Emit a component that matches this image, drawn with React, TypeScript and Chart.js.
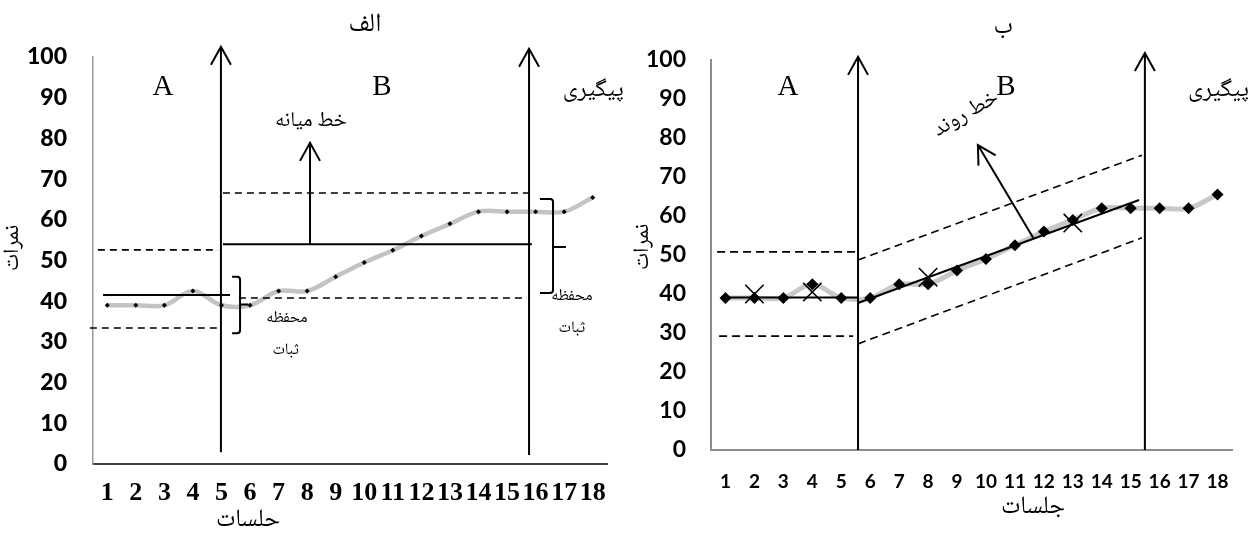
import React, { useEffect, useRef } from 'react';
import { Chart, registerables } from 'chart.js';

Chart.register(...registerables);

// ---------------- data ----------------
const sessions = ['1', '2', '3', '4', '5', '6', '7', '8', '9', '10', '11', '12', '13', '14', '15', '16', '17', '18'];
const scoresAlef = [39, 39, 39, 42.5, 39, 39, 42.5, 42.5, 46, 49.5, 52.5, 56, 59, 62, 62, 62, 62, 65.5];
const scoresBe = [39, 39, 39, 42.5, 39, 39, 42.5, 42.5, 46, 49, 52.5, 56, 59, 62, 62, 62, 62, 65.5];
const scoreMin = 0;
const scoreMax = 100;
const scoreStep = 10;
const crossSessions = [2, 4, 8, 13];
const crossScores = [40, 40.5, 44.3, 58.2];

// chart "الف" guides: [session1, score1, session2, score2]
const alefSolid = [[0.85, 41.5, 5.3, 41.5], [5.05, 54, 15.87, 54]];
const alefDashed = [[0.67, 52.6, 4.88, 52.6], [0.39, 33.4, 4.95, 33.4], [5.05, 66.6, 15.8, 66.6], [5.61, 40.8, 15.7, 40.8]];
const alefArrows = [[4.98, 2.9, 4.98, 102.5], [15.77, 2.2, 15.77, 102], [8.1, 54, 8.1, 78.9]];
// brackets: [sessionLeft, sessionRight, sessionTick, scoreTop, scoreBottom, scoreMid]
const alefBrackets = [[5.37, 5.65, 5.93, 46, 32.1, 39.2], [16.15, 16.61, 17.06, 65.1, 42, 53.3]];

// chart "ب" guides
const beSolid = [[1, 39.1, 5.58, 39.1], [5.58, 37.7, 15.29, 64.1]];
const beDashed = [[0.71, 50.8, 5.58, 50.8], [0.78, 29.2, 5.41, 29.2], [5.58, 48.7, 15.39, 75.6], [5.58, 27.2, 15.39, 54.4]];
const beArrows = [[5.58, 0, 5.58, 100.8], [15.49, 0, 15.49, 101.8], [11.63, 54.4, 9.72, 78.2]];

const SERIF = "'Liberation Serif', 'Times New Roman', serif";
const ARABIC = "'Noto Naskh Arabic', 'Liberation Serif', 'DejaVu Sans', serif";

type TextItem = { t: string; s: number; v: number; size: number; font: string; align?: CanvasTextAlign; rot?: number; weight?: string };

const alefTexts: TextItem[] = [
  { t: 'الف', s: 10.02, v: 107.1, size: 26, font: ARABIC },
  { t: 'A', s: 2.95, v: 92.6, size: 29, font: SERIF },
  { t: 'B', s: 10.62, v: 92.6, size: 29, font: SERIF },
  { t: 'پیگیری', s: 19.09, v: 91.2, size: 24, font: ARABIC, align: 'right' },
  { t: 'خط میانه', s: 8.13, v: 83.8, size: 21, font: ARABIC },
  { t: 'محفظه', s: 7.29, v: 35.4, size: 16, font: ARABIC },
  { t: 'ثبات', s: 7.25, v: 27.5, size: 16, font: ARABIC },
  { t: 'محفظه', s: 17.27, v: 40.8, size: 16, font: ARABIC },
  { t: 'ثبات', s: 17.27, v: 32.9, size: 16, font: ARABIC },
  { t: 'حلسات', s: 5.93, v: -14.5, size: 25, font: ARABIC },
  { t: 'نمرات', s: -2.23, v: 53.1, size: 22, font: ARABIC, rot: -90 },
];

const beTexts: TextItem[] = [
  { t: 'ب', s: 10.59, v: 107.7, size: 25, font: ARABIC },
  { t: 'A', s: 3.16, v: 93.1, size: 29, font: SERIF },
  { t: 'B', s: 10.69, v: 93.1, size: 29, font: SERIF },
  { t: 'پیگیری', s: 19.09, v: 91.5, size: 24, font: ARABIC, align: 'right' },
  { t: 'خط روند', s: 9.35, v: 85.6, size: 22, font: ARABIC, rot: -30 },
  { t: 'جلسات', s: 11.63, v: -15.4, size: 25, font: ARABIC },
  { t: 'نمرات', s: -1.78, v: 52.1, size: 22, font: ARABIC, rot: -90 },
];

// ---------------- helpers ----------------
function px(chart: any, s: number) {
  return chart.scales.x.getPixelForValue(s - 1);
}
function py(chart: any, v: number) {
  return chart.scales.y.getPixelForValue(v);
}

function drawSeg(ctx: CanvasRenderingContext2D, chart: any, seg: number[], dash: number[], w: number) {
  ctx.save();
  ctx.strokeStyle = '#000';
  ctx.lineWidth = w;
  ctx.setLineDash(dash);
  ctx.beginPath();
  ctx.moveTo(px(chart, seg[0]), py(chart, seg[1]));
  ctx.lineTo(px(chart, seg[2]), py(chart, seg[3]));
  ctx.stroke();
  ctx.restore();
}

function drawArrow(ctx: CanvasRenderingContext2D, chart: any, seg: number[]) {
  const x1 = px(chart, seg[0]);
  const y1 = py(chart, seg[1]);
  const x2 = px(chart, seg[2]);
  const y2 = py(chart, seg[3]);
  const len = Math.hypot(x2 - x1, y2 - y1);
  const ux = (x2 - x1) / len;
  const uy = (y2 - y1) / len;
  const h = 18;
  const w = 10;
  ctx.save();
  ctx.strokeStyle = '#000';
  ctx.lineWidth = 2;
  ctx.beginPath();
  ctx.moveTo(x1, y1);
  ctx.lineTo(x2, y2);
  ctx.moveTo(x2 - ux * h - uy * w, y2 - uy * h + ux * w);
  ctx.lineTo(x2, y2);
  ctx.lineTo(x2 - ux * h + uy * w, y2 - uy * h - ux * w);
  ctx.stroke();
  ctx.restore();
}

function drawBracket(ctx: CanvasRenderingContext2D, chart: any, b: number[]) {
  const xl = px(chart, b[0]);
  const xr = px(chart, b[1]);
  const xt = px(chart, b[2]);
  const yt = py(chart, b[3]);
  const yb = py(chart, b[4]);
  const ym = py(chart, b[5]);
  const r = 3;
  ctx.save();
  ctx.strokeStyle = '#000';
  ctx.lineWidth = 2;
  ctx.beginPath();
  ctx.moveTo(xl, yt);
  ctx.lineTo(xr - r, yt);
  ctx.quadraticCurveTo(xr, yt, xr, yt + r);
  ctx.lineTo(xr, yb - r);
  ctx.quadraticCurveTo(xr, yb, xr - r, yb);
  ctx.lineTo(xl, yb);
  ctx.moveTo(xr, ym);
  ctx.lineTo(xt, ym);
  ctx.stroke();
  ctx.restore();
}

function drawTexts(ctx: CanvasRenderingContext2D, chart: any, texts: TextItem[]) {
  texts.forEach((it) => {
    ctx.save();
    ctx.fillStyle = '#000';
    ctx.font = `${it.weight || 'normal'} ${it.size}px ${it.font}`;
    ctx.textAlign = it.align || 'center';
    ctx.textBaseline = 'middle';
    const x = px(chart, it.s);
    const y = py(chart, it.v);
    ctx.translate(x, y);
    if (it.rot) ctx.rotate((it.rot * Math.PI) / 180);
    ctx.fillText(it.t, 0, 0);
    ctx.restore();
  });
}

type PanelSpec = {
  scores: number[];
  lineColor: string;
  lineWidth: number;
  markerRadius: number;
  crosses: boolean;
  solid: number[][];
  dashed: number[][];
  arrows: number[][];
  brackets: number[][];
  texts: TextItem[];
  padTop: number;
  yWidth: number;
  xHeight: number;
  yFont: any;
  xFont: any;
  xPad: number;
  yPad: number;
  xBorder: string;
  xBorderW: number;
  yBorder: string;
  yBorderW: number;
  dash: number[];
};

function buildConfig(p: PanelSpec): any {
  const crossData = sessions.map((_, i) => {
    const k = crossSessions.indexOf(i + 1);
    return k >= 0 ? crossScores[k] : null;
  });
  const datasets: any[] = [
    {
      data: p.crosses ? crossData : [],
      showLine: false,
      pointStyle: 'crossRot',
      pointRadius: 13,
      pointBorderWidth: 1.6,
      pointBorderColor: '#000',
      pointBackgroundColor: '#000',
      order: 0,
    },
    {
      data: p.scores,
      showLine: false,
      pointStyle: 'rectRot',
      pointRadius: p.markerRadius,
      pointBorderWidth: 0,
      pointBackgroundColor: '#000',
      pointBorderColor: '#000',
      order: 1,
    },
    {
      data: p.scores,
      borderColor: p.lineColor,
      borderWidth: p.lineWidth,
      pointRadius: 0,
      tension: 0.35,
      fill: false,
      order: 2,
    },
  ];
  const plugin = {
    id: 'guides',
    afterDatasetDraw(chart: any, args: any) {
      if (args.index !== 2) return;
      const ctx = chart.ctx;
      p.dashed.forEach((s) => drawSeg(ctx, chart, s, p.dash, 1.6));
      p.solid.forEach((s) => drawSeg(ctx, chart, s, [], 2));
      p.arrows.forEach((s) => drawArrow(ctx, chart, s));
      p.brackets.forEach((b) => drawBracket(ctx, chart, b));
    },
    afterDraw(chart: any) {
      drawTexts(chart.ctx, chart, p.texts);
    },
  };
  return {
    type: 'line',
    data: { labels: sessions, datasets },
    options: {
      responsive: false,
      animation: false,
      devicePixelRatio: 1,
      layout: { padding: { top: p.padTop, right: 18, left: 0, bottom: 0 } },
      plugins: { legend: { display: false }, tooltip: { enabled: false }, title: { display: false } },
      scales: {
        x: {
          type: 'category',
          offset: true,
          grid: { display: false, drawTicks: false },
          border: { display: true, color: p.xBorder, width: p.xBorderW },
          ticks: { color: '#000', font: p.xFont, padding: p.xPad, autoSkip: false, maxRotation: 0, minRotation: 0 },
          afterFit: (s: any) => {
            s.height = p.xHeight;
          },
        },
        y: {
          min: scoreMin,
          max: scoreMax,
          grid: { display: false, drawTicks: false },
          border: { display: true, color: p.yBorder, width: p.yBorderW },
          ticks: { stepSize: scoreStep, color: '#000', font: p.yFont, padding: p.yPad },
          afterFit: (s: any) => {
            s.width = p.yWidth;
          },
        },
      },
    },
    plugins: [plugin],
  };
}

const alefSpec: PanelSpec = {
  scores: scoresAlef,
  lineColor: '#c3c3c3',
  lineWidth: 4.5,
  markerRadius: 2.5,
  crosses: false,
  solid: alefSolid,
  dashed: alefDashed,
  arrows: alefArrows,
  brackets: alefBrackets,
  texts: alefTexts,
  padTop: 57,
  yWidth: 93,
  xHeight: 69,
  yFont: { family: "Lato, 'Open Sans', sans-serif", size: 23, weight: '900' },
  xFont: { family: SERIF, size: 26, weight: 'bold' },
  xPad: 14,
  yPad: 26,
  xBorder: '#404040',
  xBorderW: 2,
  yBorder: '#9a9a9a',
  yBorderW: 1.5,
  dash: [7, 5],
};

const beSpec: PanelSpec = {
  scores: scoresBe,
  lineColor: '#c8c8c8',
  lineWidth: 5,
  markerRadius: 6,
  crosses: true,
  solid: beSolid,
  dashed: beDashed,
  arrows: beArrows,
  brackets: [],
  texts: beTexts,
  padTop: 60,
  yWidth: 86,
  xHeight: 83,
  yFont: { family: "Lato, 'Open Sans', sans-serif", size: 23, weight: 'bold' },
  xFont: { family: "Lato, 'Open Sans', sans-serif", size: 19, weight: 'bold' },
  xPad: 20,
  yPad: 25,
  xBorder: '#8c8c8c',
  xBorderW: 2,
  yBorder: '#8c8c8c',
  yBorderW: 2,
  dash: [8, 5],
};

function Panel({ spec, left }: { spec: PanelSpec; left: number }) {
  const ref = useRef<HTMLCanvasElement | null>(null);
  useEffect(() => {
    if (!ref.current) return;
    const chart = new Chart(ref.current, buildConfig(spec));
    return () => chart.destroy();
  }, []);
  return (
    <canvas
      ref={ref}
      width={625}
      height={533}
      style={{ position: 'absolute', left, top: 0, width: 625, height: 533 }}
    />
  );
}

export default function App() {
  return (
    <div style={{ position: 'absolute', left: 0, top: 0, width: 1250, height: 533, background: '#fff', overflow: 'hidden' }}>
      <Panel spec={alefSpec} left={0} />
      <Panel spec={beSpec} left={625} />
    </div>
  );
}
